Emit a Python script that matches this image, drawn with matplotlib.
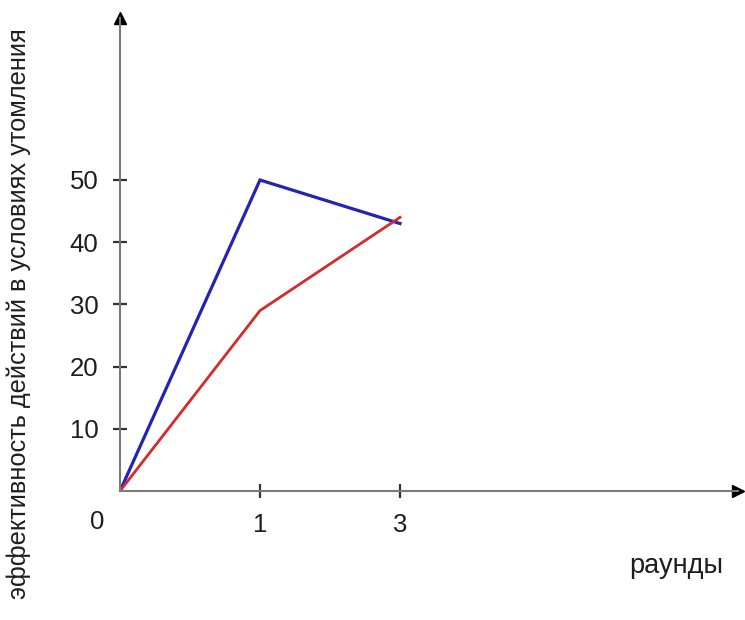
import matplotlib
matplotlib.use("Agg")
import matplotlib.pyplot as plt

plt.rcParams['font.family'] = ['Liberation Sans', 'DejaVu Sans']

# rounds shown on the x axis (evenly spaced positions)
rounds = ["0", "1", "3"]
blue_values = [0, 50, 43]
red_values = [0, 29, 44]
y_ticks = [10, 20, 30, 40, 50]

W, H = 745, 620
fig = plt.figure(figsize=(W / 100, H / 100), dpi=100)
# axes box: origin at pixel (120, 491), x arrow to ~744, y arrow to ~12
ax = fig.add_axes([120 / W, (H - 491) / H, (738 - 120) / W, (491 - 18) / H])

pos = list(range(len(rounds)))
ax.plot(pos, blue_values, color="#2323b4", lw=2.3, solid_joinstyle="miter")
ax.plot(pos, red_values, color="#d42a2a", lw=2.0)

ax.set_xlim(0, 618 / 140)
ax.set_ylim(0, 473 / 6.22)

for s in ["top", "right"]:
    ax.spines[s].set_visible(False)
for s in ["left", "bottom"]:
    ax.spines[s].set_color("#7a7a7a")
    ax.spines[s].set_linewidth(1.5)

# arrow heads
ax.plot(1, 0, ">", color="black", ms=9, transform=ax.get_yaxis_transform(), clip_on=False)
ax.plot(0, 1, "^", color="black", ms=9, transform=ax.get_xaxis_transform(), clip_on=False)

ax.set_xticks(pos[1:])
ax.set_xticklabels(rounds[1:])
ax.set_yticks(y_ticks)
ax.tick_params(axis="both", direction="inout", length=10, width=1.6, color="#333333",
               labelsize=18.5, labelcolor="#1e1e1e", pad=10.5)
ax.annotate(rounds[0], xy=(0, 0), xytext=(-16.5, -22), textcoords="offset points",
            ha="center", va="center", fontsize=18.5, color="#1e1e1e", annotation_clip=False)

fig.text(19 / W, 1 - 314 / H, "эффективность действий в условиях утомления",
         rotation=90, ha="center", va="center", fontsize=18.3, color="#1e1e1e")
fig.text(676 / W, 1 - 566 / H, "раунды", ha="center", va="center",
         fontsize=19.5, color="#1e1e1e")

fig.savefig("out.png", dpi=100)
